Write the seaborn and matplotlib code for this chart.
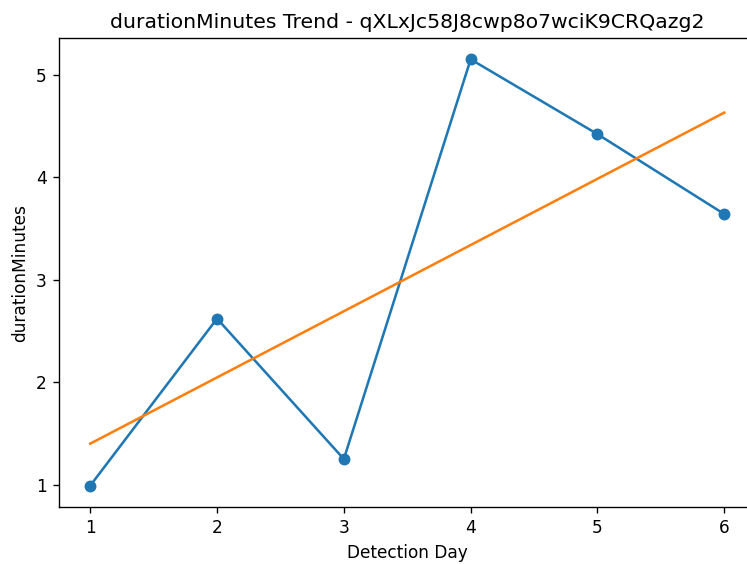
import matplotlib
matplotlib.use("Agg")
import matplotlib.pyplot as plt
import seaborn as sns
import pandas as pd

days = [1, 2, 3, 4, 5, 6]
duration_minutes = [0.99, 2.62, 1.25, 5.15, 4.42, 3.64]
trend_days = [1, 6]
trend_values = [1.40, 4.63]

title = "durationMinutes Trend - qXLxJc58J8cwp8o7wciK9CRQazg2"

df = pd.DataFrame({"Detection Day": days, "durationMinutes": duration_minutes})
tdf = pd.DataFrame({"Detection Day": trend_days, "durationMinutes": trend_values})

DPI = 122
fig = plt.figure(figsize=(747 / DPI, 564 / DPI), dpi=DPI)
ax = fig.add_axes([58.5 / 747, 1 - 507 / 564, (756 - 58.5) / 747, (507 - 38) / 564])

sns.lineplot(data=df, x="Detection Day", y="durationMinutes", marker="o",
             markersize=6, markeredgewidth=1, markeredgecolor="#1f77b4",
             color="#1f77b4", ax=ax, linewidth=1.5)
sns.lineplot(data=tdf, x="Detection Day", y="durationMinutes", color="#ff7f0e",
             ax=ax, linewidth=1.5)

ax.set_xlim(0.75, 6.25)
ax.set_ylim(0.782, 5.358)
ax.set_xticks(days)
ax.set_yticks([1, 2, 3, 4, 5])
ax.set_title(title, fontsize=12)
ax.set_xlabel("Detection Day")
ax.set_ylabel("durationMinutes")

fig.savefig("out.png", dpi=DPI)
